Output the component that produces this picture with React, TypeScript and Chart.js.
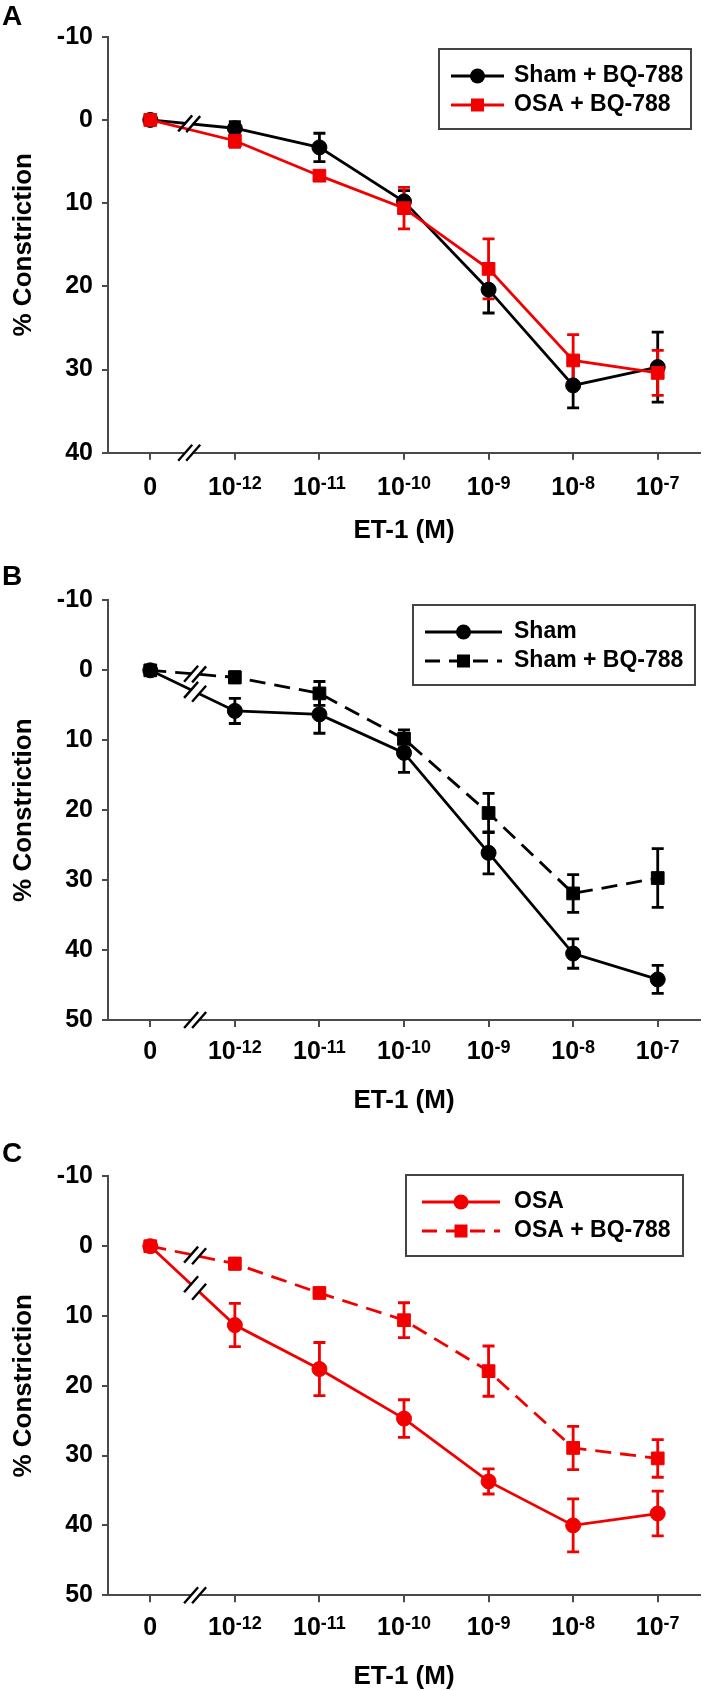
import React, { useEffect, useRef } from 'react';
import { Chart, registerables } from 'chart.js';

Chart.register(...registerables);

// ---------- data ----------
const xIndex = [0, 1, 2, 3, 4, 5, 6];
const xBase = ['0', '10', '10', '10', '10', '10', '10'];
const xExp = ['', '-12', '-11', '-10', '-9', '-8', '-7'];

const shamMean = [0, 5.8, 6.3, 11.8, 26.1, 40.5, 44.2];
const shamErr = [0, 1.8, 2.7, 2.8, 3.0, 2.1, 2.0];
const shamBQMean = [0, 1.0, 3.3, 9.8, 20.4, 31.9, 29.7];
const shamBQErr = [0, 0.8, 1.7, 1.3, 2.8, 2.7, 4.2];
const osaMean = [0, 11.3, 17.6, 24.7, 33.7, 40.0, 38.3];
const osaErr = [0, 3.1, 3.8, 2.7, 1.8, 3.8, 3.2];
const osaBQMean = [0, 2.5, 6.7, 10.6, 17.9, 28.9, 30.4];
const osaBQErr = [0, 0.8, 0.5, 2.5, 3.6, 3.1, 2.7];

const xTitle = 'ET-1 (M)';
const yTitle = '% Constriction';

// ---------- styles ----------
const BLACK = '#000000';
const RED = '#f20000';
const AXIS = '#4a4a4a';
const FONT = "'Liberation Sans', Arial, sans-serif";
const DASH = [16, 9];

type Series = {
  label: string;
  mean: number[];
  err: number[];
  color: string;
  style: 'circle' | 'rect';
  dashed: boolean;
  brk: boolean;
  order: number;
};

type PanelCfg = {
  letter: string;
  height: number;
  top: number;
  bottom: number;
  yMax: number;
  breakX: number;
  letterY: number;
  tickOff: number;
  titleOff: number;
  legend: { x: number; y: number; w: number; h: number; l0: number; l1: number; tx: number; rows: number[] };
  series: Series[];
};

const panels: PanelCfg[] = [
  {
    letter: 'A', height: 560, top: 36.7, bottom: 452.8, yMax: 40, breakX: 0.46, letterY: 25, tickOff: 42, titleOff: 85,
    legend: { x: 439, y: 49, w: 252, h: 80, l0: 451, l1: 504, tx: 514, rows: [76, 105] },
    series: [
      { label: 'Sham + BQ-788', mean: shamBQMean, err: shamBQErr, color: BLACK, style: 'circle', dashed: false, brk: true, order: 1 },
      { label: 'OSA + BQ-788', mean: osaBQMean, err: osaBQErr, color: RED, style: 'rect', dashed: false, brk: false, order: 0 },
    ],
  },
  {
    letter: 'B', height: 560, top: 40.4, bottom: 460, yMax: 50, breakX: 0.53, letterY: 25, tickOff: 39, titleOff: 88,
    legend: { x: 413, y: 45, w: 282, h: 80, l0: 425, l1: 502, tx: 514, rows: [72, 101] },
    series: [
      { label: 'Sham', mean: shamMean, err: shamErr, color: BLACK, style: 'circle', dashed: false, brk: true, order: 0 },
      { label: 'Sham + BQ-788', mean: shamBQMean, err: shamBQErr, color: BLACK, style: 'rect', dashed: true, brk: true, order: 1 },
    ],
  },
  {
    letter: 'C', height: 571, top: 56.4, bottom: 475.2, yMax: 50, breakX: 0.53, letterY: 42, tickOff: 40, titleOff: 89,
    legend: { x: 406, y: 55, w: 277, h: 81, l0: 422, l1: 500, tx: 514, rows: [82, 111] },
    series: [
      { label: 'OSA', mean: osaMean, err: osaErr, color: RED, style: 'circle', dashed: false, brk: true, order: 0 },
      { label: 'OSA + BQ-788', mean: osaBQMean, err: osaBQErr, color: RED, style: 'rect', dashed: true, brk: true, order: 1 },
    ],
  },
];

function drawBreak(ctx: CanvasRenderingContext2D, x0: number, y0: number, x1: number, y1: number, cx: number, eraseW: number) {
  const m = (y1 - y0) / (x1 - x0);
  const yAt = (x: number) => y0 + m * (x - x0);
  ctx.save();
  ctx.setLineDash([]);
  ctx.strokeStyle = '#ffffff';
  ctx.lineWidth = eraseW;
  ctx.beginPath();
  ctx.moveTo(cx - 3.5, yAt(cx - 3.5));
  ctx.lineTo(cx + 3.5, yAt(cx + 3.5));
  ctx.stroke();
  ctx.strokeStyle = '#000000';
  ctx.lineWidth = 2.4;
  [cx - 4, cx + 4].forEach((sx) => {
    const sy = yAt(sx);
    ctx.beginPath();
    ctx.moveTo(sx - 7, sy + 8);
    ctx.lineTo(sx + 7, sy - 8);
    ctx.stroke();
  });
  ctx.restore();
}

function drawMarker(ctx: CanvasRenderingContext2D, s: Series, x: number, y: number) {
  ctx.fillStyle = s.color;
  if (s.style === 'circle') {
    ctx.beginPath();
    ctx.arc(x, y, 7.5, 0, Math.PI * 2);
    ctx.fill();
  } else {
    ctx.fillRect(x - 6.5, y - 6.5, 13, 13);
  }
}

function makeDeco(cfg: PanelCfg) {
  return {
    id: 'deco' + cfg.letter,
    beforeDatasetsDraw(chart: any) {
      const ctx: CanvasRenderingContext2D = chart.ctx;
      const xs = chart.scales.x;
      const ys = chart.scales.y;
      ctx.save();
      ctx.lineWidth = 2.8;
      ctx.setLineDash([]);
      cfg.series.forEach((s) => {
        ctx.strokeStyle = s.color;
        s.mean.forEach((v, i) => {
          const e = s.err[i];
          if (!e) return;
          const px = xs.getPixelForValue(xIndex[i]);
          const ya = ys.getPixelForValue(v - e);
          const yb = ys.getPixelForValue(v + e);
          ctx.beginPath();
          ctx.moveTo(px, ya);
          ctx.lineTo(px, yb);
          ctx.moveTo(px - 6, ya);
          ctx.lineTo(px + 6, ya);
          ctx.moveTo(px - 6, yb);
          ctx.lineTo(px + 6, yb);
          ctx.stroke();
        });
      });
      ctx.restore();
    },
    afterDatasetsDraw(chart: any) {
      const ctx: CanvasRenderingContext2D = chart.ctx;
      const xs = chart.scales.x;
      const ys = chart.scales.y;
      const cx = xs.getPixelForValue(cfg.breakX);
      cfg.series.forEach((s) => {
        if (!s.brk) return;
        drawBreak(
          ctx,
          xs.getPixelForValue(xIndex[0]), ys.getPixelForValue(s.mean[0]),
          xs.getPixelForValue(xIndex[1]), ys.getPixelForValue(s.mean[1]),
          cx, 5
        );
      });
    },
    afterDraw(chart: any) {
      const ctx: CanvasRenderingContext2D = chart.ctx;
      const xs = chart.scales.x;
      const area = chart.chartArea;
      // x-axis break
      drawBreak(ctx, area.left, area.bottom, area.right, area.bottom, xs.getPixelForValue(cfg.breakX), 4);

      ctx.save();
      ctx.fillStyle = '#000';
      // x tick labels
      const baseFont = `bold 25px ${FONT}`;
      const expFont = `bold 18px ${FONT}`;
      ctx.textBaseline = 'alphabetic';
      ctx.textAlign = 'left';
      xIndex.forEach((v, i) => {
        const px = xs.getPixelForValue(v);
        ctx.font = baseFont;
        const wb = ctx.measureText(xBase[i]).width;
        ctx.font = expFont;
        const we = xExp[i] ? ctx.measureText(xExp[i]).width : 0;
        const start = px - (wb + we) / 2;
        const by = area.bottom + cfg.tickOff;
        ctx.font = baseFont;
        ctx.fillText(xBase[i], start, by);
        if (xExp[i]) {
          ctx.font = expFont;
          ctx.fillText(xExp[i], start + wb, by - 6);
        }
      });
      // x title
      ctx.font = `bold 26px ${FONT}`;
      ctx.textAlign = 'center';
      ctx.fillText(xTitle, (area.left + area.right) / 2, area.bottom + cfg.titleOff);
      // y title
      ctx.save();
      ctx.translate(31, (area.top + area.bottom) / 2);
      ctx.rotate(-Math.PI / 2);
      ctx.textAlign = 'center';
      ctx.fillText(yTitle, 0, 0);
      ctx.restore();
      // panel letter
      ctx.font = `bold 28px ${FONT}`;
      ctx.textAlign = 'left';
      ctx.fillText(cfg.letter, 2, cfg.letterY);

      // legend
      const L = cfg.legend;
      ctx.strokeStyle = '#444';
      ctx.lineWidth = 2;
      ctx.setLineDash([]);
      ctx.strokeRect(L.x, L.y, L.w, L.h);
      cfg.series.forEach((s, k) => {
        const ry = L.rows[k];
        ctx.strokeStyle = s.color;
        ctx.lineWidth = 2.8;
        ctx.setLineDash(s.dashed ? [15, 9] : []);
        ctx.beginPath();
        ctx.moveTo(L.l0, ry);
        ctx.lineTo(L.l1, ry);
        ctx.stroke();
        ctx.setLineDash([]);
        drawMarker(ctx, s, (L.l0 + L.l1) / 2, ry);
        ctx.fillStyle = '#000';
        ctx.font = `bold 23px ${FONT}`;
        ctx.textBaseline = 'middle';
        ctx.fillText(s.label, L.tx, ry);
        ctx.textBaseline = 'alphabetic';
      });
      ctx.restore();
    },
  };
}

function Panel({ cfg }: { cfg: PanelCfg }) {
  const ref = useRef<HTMLCanvasElement | null>(null);
  useEffect(() => {
    if (!ref.current) return;
    const chart = new Chart(ref.current, {
      type: 'line',
      data: {
        datasets: cfg.series.map((s) => ({
          label: s.label,
          data: s.mean.map((v, i) => ({ x: xIndex[i], y: v })),
          borderColor: s.color,
          backgroundColor: s.color,
          borderWidth: 2.8,
          borderDash: s.dashed ? DASH : [],
          pointStyle: s.style,
          pointRadius: s.style === 'rect' ? 9 : 7.5,
          pointBorderWidth: 1,
          pointBackgroundColor: s.color,
          pointBorderColor: s.color,
          tension: 0,
          fill: false,
          order: s.order,
          clip: false as any,
        })),
      },
      options: {
        responsive: false,
        devicePixelRatio: 1,
        animation: false,
        events: [],
        layout: { padding: { top: cfg.top, right: 6, left: 0, bottom: 0 } },
        plugins: { legend: { display: false }, tooltip: { enabled: false } },
        scales: {
          x: {
            type: 'linear',
            min: -0.5,
            max: 6.5,
            afterBuildTicks: (scale: any) => {
              scale.ticks = xIndex.map((v) => ({ value: v }));
            },
            afterFit: (scale: any) => {
              scale.height = cfg.height - cfg.bottom;
            },
            ticks: { callback: () => '', autoSkip: false },
            grid: { display: true, drawOnChartArea: false, drawTicks: true, tickLength: 7, color: AXIS, lineWidth: 2 },
            border: { display: true, color: AXIS, width: 2 },
          },
          y: {
            type: 'linear',
            reverse: true,
            min: -10,
            max: cfg.yMax,
            afterFit: (scale: any) => {
              scale.width = 108;
            },
            ticks: { stepSize: 10, color: '#000', padding: 9, font: { family: FONT, weight: 'bold', size: 25 } },
            grid: { display: true, drawOnChartArea: false, drawTicks: true, tickLength: 6, color: AXIS, lineWidth: 2 },
            border: { display: true, color: AXIS, width: 2 },
          },
        },
      } as any,
      plugins: [makeDeco(cfg)],
    });
    return () => chart.destroy();
  }, []);
  return <canvas ref={ref} width={710} height={cfg.height} style={{ display: 'block', width: 710, height: cfg.height }} />;
}

export default function App() {
  return (
    <div style={{ position: 'absolute', left: 0, top: 0, width: 710, background: '#fff' }}>
      {panels.map((p) => (
        <Panel key={p.letter} cfg={p} />
      ))}
    </div>
  );
}
